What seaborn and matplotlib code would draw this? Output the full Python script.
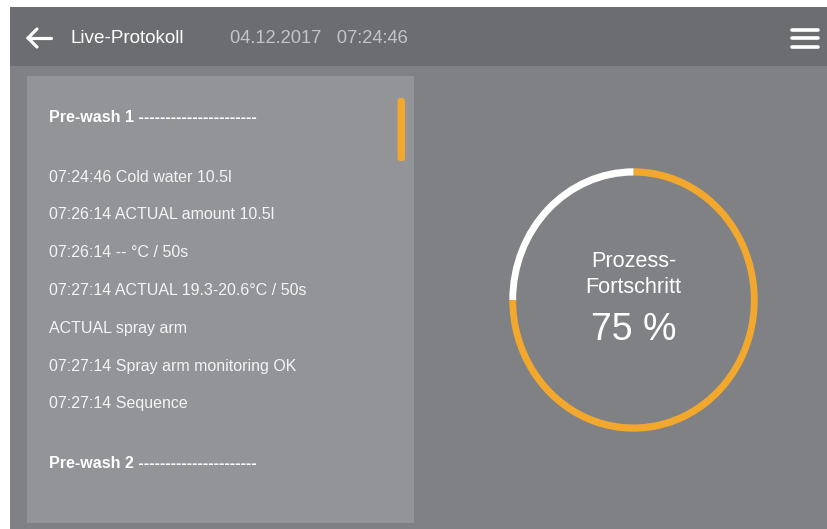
import matplotlib
matplotlib.use("Agg")
import matplotlib.pyplot as plt
from matplotlib.patches import Rectangle, FancyBboxPatch
import seaborn as sns

# Data
progress = [75, 25]
progress_labels = ["done", "remaining"]
title = "Live-Protokoll"
timestamp = "04.12.2017   07:24:46"
section_1 = "Pre-wash 1 ----------------------"
log_lines = [
    "07:24:46 Cold water 10.5l",
    "07:26:14 ACTUAL amount 10.5l",
    "07:26:14 -- °C / 50s",
    "07:27:14 ACTUAL 19.3-20.6°C / 50s",
    "ACTUAL spray arm",
    "07:27:14 Spray arm monitoring OK",
    "07:27:14 Sequence",
]
section_2 = "Pre-wash 2 ----------------------"
center_label = "Prozess-\nFortschritt"

sns.set_theme(style="white")
plt.rcParams["font.family"] = ["Liberation Sans", "DejaVu Sans"]

ORANGE = "#f2a82d"
BODY = "#808185"
W, H = 828, 529
fig = plt.figure(figsize=(W / 100, H / 100), dpi=100)
fig.patch.set_facecolor(BODY)

# background / layout axis in pixel coordinates
bg = fig.add_axes([0, 0, 1, 1])
bg.set_xlim(0, W)
bg.set_ylim(H, 0)
bg.axis("off")

# white outer margins, header bar, log panel
bg.add_patch(Rectangle((-5, -5), W + 10, 12, color="white", lw=0))
bg.add_patch(Rectangle((-5, -5), 15, H + 10, color="white", lw=0))
bg.add_patch(Rectangle((10, 7), W + 5, 59, color="#6c6d71", lw=0))
bg.add_patch(Rectangle((27, 76), 387, 447, color="#939498", lw=0))
bg.add_patch(FancyBboxPatch((397.5, 98), 7.5, 63, boxstyle="round,pad=0,rounding_size=3",
                            color=ORANGE, lw=0))

# back arrow
bg.plot([28, 51], [38, 38], color="white", lw=2.3, solid_capstyle="round")
bg.plot([37, 28, 37], [29, 38, 47], color="white", lw=2.3,
        solid_capstyle="round", solid_joinstyle="miter")

# menu icon
for y in [29.5, 38, 47]:
    bg.plot([792, 818], [y, y], color="white", lw=2.6, solid_capstyle="round")

bg.text(71, 38.5, title, color="white", fontsize=13.6, va="center", ha="left")
bg.text(230, 38.5, timestamp, color="#c3c4c7", fontsize=13.2, va="center", ha="left")

# log panel
fs = 11.5
bg.text(49, 117, section_1, color="white", fontsize=fs, fontweight="bold", va="center")
for i, line in enumerate(log_lines):
    bg.text(49, 177 + i * 37.8, line, color="#f4f4f4", fontsize=fs, va="center")
bg.text(49, 464, section_2, color="white", fontsize=fs, fontweight="bold", va="center")

# progress ring
left, right, top, bottom = 509.3, 757.7, 168.3, 431.7
ax = fig.add_axes([left / W, 1 - bottom / H, (right - left) / W, (bottom - top) / H])
ring_colors = [ORANGE, "white"]
ax.pie(progress, labels=None, colors=ring_colors, startangle=90, counterclock=False,
       radius=1, wedgeprops=dict(width=0.055, linewidth=0))
ax.set_aspect("auto")
ax.set_xlim(-1, 1)
ax.set_ylim(-1, 1)
ax.axis("off")

bg.text(633.5, 274.5, center_label, color="white", fontsize=15.6, ha="center", va="center",
        linespacing=1.35)
bg.text(633.5, 330, f"{progress[0]} %", color="white", fontsize=27, ha="center", va="center")

fig.savefig("out.png", dpi=100, facecolor=BODY)
